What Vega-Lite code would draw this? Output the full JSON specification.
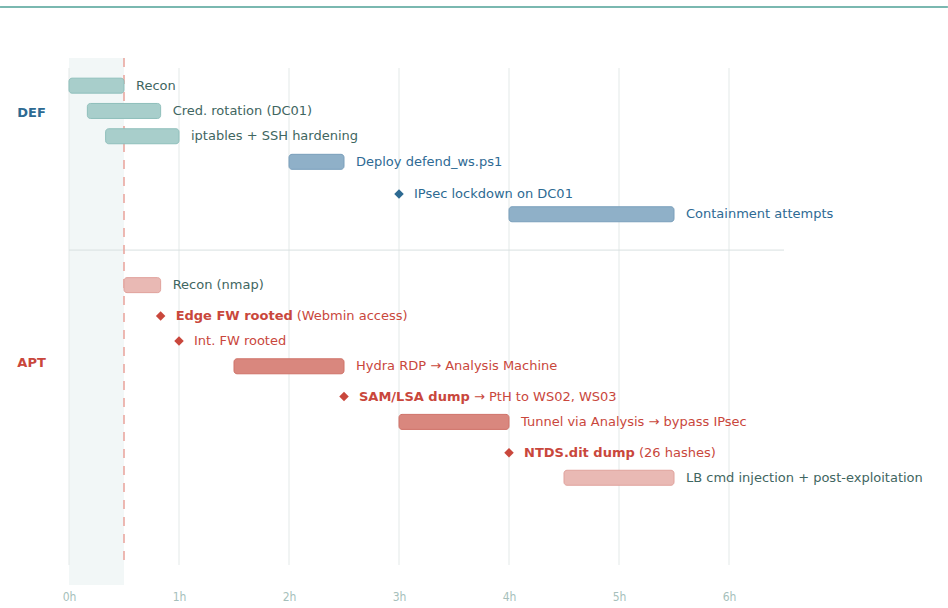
{
  "$schema": "https://vega.github.io/schema/vega-lite/v6.json",
  "width": 715,
  "height": 527,
  "autosize": {"type": "none"},
  "padding": {"left": 69, "top": 58, "right": 164, "bottom": 23},
  "background": "#ffffff",
  "config": {"view": {"stroke": null}, "font": "DejaVu Sans"},
  "datasets": {
    "tasks": [
      {"team": "DEF", "label": "Recon", "start": 0, "end": 0.5, "row": 1.05, "tone": "def-light"},
      {"team": "DEF", "label": "Cred. rotation (DC01)", "start": 0.167, "end": 0.833, "row": 2.01, "tone": "def-light"},
      {"team": "DEF", "label": "iptables + SSH hardening", "start": 0.333, "end": 1.0, "row": 2.97, "tone": "def-light"},
      {"team": "DEF", "label": "Deploy defend_ws.ps1", "start": 2.0, "end": 2.5, "row": 3.94, "tone": "def-dark"},
      {"team": "DEF", "label": "Containment attempts", "start": 4.0, "end": 5.5, "row": 5.93, "tone": "def-dark"},
      {"team": "APT", "label": "Recon (nmap)", "start": 0.5, "end": 0.833, "row": 8.62, "tone": "apt-light"},
      {"team": "APT", "label": "Hydra RDP → Analysis Machine", "start": 1.5, "end": 2.5, "row": 11.7, "tone": "apt-dark"},
      {"team": "APT", "label": "Tunnel via Analysis → bypass IPsec", "start": 3.0, "end": 4.0, "row": 13.81, "tone": "apt-dark"},
      {"team": "APT", "label": "LB cmd injection + post-exploitation", "start": 4.5, "end": 5.5, "row": 15.93, "tone": "apt-light"}
    ],
    "events": [
      {"id": "ipsec", "team": "DEF", "lead": "", "rest": "IPsec lockdown on DC01", "t": 3.0, "row": 5.16},
      {"id": "edge", "team": "APT", "lead": "Edge FW rooted", "rest": "(Webmin access)", "t": 0.833, "row": 9.79},
      {"id": "int", "team": "APT", "lead": "", "rest": "Int. FW rooted", "t": 1.0, "row": 10.74},
      {"id": "sam", "team": "APT", "lead": "SAM/LSA dump", "rest": "→ PtH to WS02, WS03", "t": 2.5, "row": 12.85},
      {"id": "ntds", "team": "APT", "lead": "NTDS.dit dump", "rest": "(26 hashes)", "t": 4.0, "row": 14.98}
    ],
    "grid": [
      {"h": 0, "top": 0.38, "bottom": 19.24},
      {"h": 1, "top": 0.38, "bottom": 19.24},
      {"h": 2, "top": 0.38, "bottom": 19.24},
      {"h": 3, "top": 0.38, "bottom": 19.24},
      {"h": 4, "top": 0.38, "bottom": 19.24},
      {"h": 5, "top": 0.38, "bottom": 19.24},
      {"h": 6, "top": 0.38, "bottom": 19.24}
    ],
    "band": [{"a": 0, "b": 0.5, "top": 0, "bottom": 20}],
    "cut": [{"a": 0.5, "top": 0, "bottom": 19.24}],
    "sep": [{"a": 0, "b": 6.5, "row": 7.29}],
    "topline": [{"a": -0.627, "b": 7.99, "row": -1.94}],
    "teams": [
      {"team": "DEF", "t": -0.34, "row": 2.09},
      {"team": "APT", "t": -0.34, "row": 11.57}
    ]
  },
  "encoding": {},
  "layer": [
    {
      "data": {"name": "band"},
      "mark": {"type": "rect", "color": "#f2f7f7"},
      "encoding": {
        "x": {"field": "a", "type": "quantitative", "scale": {"domain": [0, 6.5], "nice": false, "zero": false, "padding": 0},
          "axis": {"values": [0, 1, 2, 3, 4, 5, 6], "labelExpr": "datum.value + 'h'", "title": null, "domain": false, "ticks": false, "grid": false,
            "labelFlush": false, "labelColor": "#a6bfbb", "labelFont": "DejaVu Sans Condensed", "labelFontSize": 12, "labelPadding": 6}},
        "x2": {"field": "b"},
        "y": {"field": "top", "type": "quantitative", "scale": {"domain": [0, 20], "reverse": true, "nice": false, "zero": false, "padding": 0}, "axis": null},
        "y2": {"field": "bottom"}
      }
    },
    {
      "data": {"name": "grid"},
      "mark": {"type": "rule", "color": "#e3e9e8", "strokeWidth": 1},
      "encoding": {
        "x": {"field": "h", "type": "quantitative"},
        "y": {"field": "top", "type": "quantitative"},
        "y2": {"field": "bottom"}
      }
    },
    {
      "data": {"name": "sep"},
      "mark": {"type": "rule", "color": "#d8e1e0", "strokeWidth": 1},
      "encoding": {
        "x": {"field": "a", "type": "quantitative"},
        "x2": {"field": "b"},
        "y": {"field": "row", "type": "quantitative"}
      }
    },
    {
      "data": {"name": "topline"},
      "mark": {"type": "rule", "color": "#7ab8b0", "strokeWidth": 2},
      "encoding": {
        "x": {"field": "a", "type": "quantitative"},
        "x2": {"field": "b"},
        "y": {"field": "row", "type": "quantitative"}
      }
    },
    {
      "data": {"name": "cut"},
      "mark": {"type": "rule", "color": "#e9a39b", "strokeWidth": 1.5, "strokeDash": [9, 8]},
      "encoding": {
        "x": {"field": "a", "type": "quantitative"},
        "y": {"field": "top", "type": "quantitative"},
        "y2": {"field": "bottom"}
      }
    },
    {
      "data": {"name": "tasks"},
      "mark": {"type": "bar", "size": 15, "cornerRadius": 3, "strokeWidth": 1},
      "encoding": {
        "x": {"field": "start", "type": "quantitative"},
        "x2": {"field": "end"},
        "y": {"field": "row", "type": "quantitative"},
        "fill": {"field": "tone", "type": "nominal", "legend": null,
          "scale": {"domain": ["def-light", "def-dark", "apt-light", "apt-dark"], "range": ["#a8cecb", "#8fb0c8", "#e9b9b4", "#d9877e"]}},
        "stroke": {"field": "tone", "type": "nominal", "legend": null,
          "scale": {"domain": ["def-light", "def-dark", "apt-light", "apt-dark"], "range": ["#8fbfbb", "#7a9fbb", "#e0a29c", "#cf7268"]}}
      }
    },
    {
      "data": {"name": "tasks"},
      "mark": {"type": "text", "align": "left", "baseline": "middle", "dx": 12, "fontSize": 13},
      "encoding": {
        "x": {"field": "end", "type": "quantitative"},
        "y": {"field": "row", "type": "quantitative"},
        "text": {"field": "label"},
        "color": {"field": "tone", "type": "nominal", "legend": null,
          "scale": {"domain": ["def-light", "def-dark", "apt-light", "apt-dark", "DEF", "APT"], "range": ["#3f6661", "#2e6a94", "#3f6661", "#c9473c", "#2d6a92", "#c9473c"]}}
      }
    },
    {
      "data": {"name": "events"},
      "mark": {"type": "point", "shape": "diamond", "filled": true, "size": 90, "opacity": 1},
      "encoding": {
        "x": {"field": "t", "type": "quantitative"},
        "y": {"field": "row", "type": "quantitative"},
        "color": {"field": "team", "type": "nominal", "legend": null}
      }
    },
    {
      "data": {"name": "events"},
      "transform": [{"filter": "datum.lead != ''"}],
      "mark": {"type": "text", "align": "left", "baseline": "middle", "dx": 15, "fontSize": 13, "fontWeight": "bold"},
      "encoding": {
        "x": {"field": "t", "type": "quantitative"},
        "y": {"field": "row", "type": "quantitative"},
        "text": {"field": "lead"},
        "color": {"field": "team", "type": "nominal", "legend": null}
      }
    },
    {
      "data": {"name": "events"},
      "transform": [{"filter": "datum.lead == ''"}],
      "mark": {"type": "text", "align": "left", "baseline": "middle", "dx": 15, "fontSize": 13},
      "encoding": {
        "x": {"field": "t", "type": "quantitative"},
        "y": {"field": "row", "type": "quantitative"},
        "text": {"field": "rest"},
        "color": {"field": "team", "type": "nominal", "legend": null}
      }
    },
    {
      "data": {"name": "events"},
      "transform": [{"filter": "datum.id == 'edge'"}],
      "mark": {"type": "text", "align": "left", "baseline": "middle", "dx": 136, "fontSize": 13, "color": "#c9473c"},
      "encoding": {
        "x": {"field": "t", "type": "quantitative"},
        "y": {"field": "row", "type": "quantitative"},
        "text": {"field": "rest"}
      }
    },
    {
      "data": {"name": "events"},
      "transform": [{"filter": "datum.id == 'sam' || datum.id == 'ntds'"}],
      "mark": {"type": "text", "align": "left", "baseline": "middle", "dx": 130, "fontSize": 13, "color": "#c9473c"},
      "encoding": {
        "x": {"field": "t", "type": "quantitative"},
        "y": {"field": "row", "type": "quantitative"},
        "text": {"field": "rest"}
      }
    },
    {
      "data": {"name": "teams"},
      "mark": {"type": "text", "align": "center", "baseline": "middle", "fontSize": 13, "fontWeight": "bold"},
      "encoding": {
        "x": {"field": "t", "type": "quantitative"},
        "y": {"field": "row", "type": "quantitative"},
        "text": {"field": "team"},
        "color": {"field": "team", "type": "nominal", "legend": null}
      }
    }
  ]
}
